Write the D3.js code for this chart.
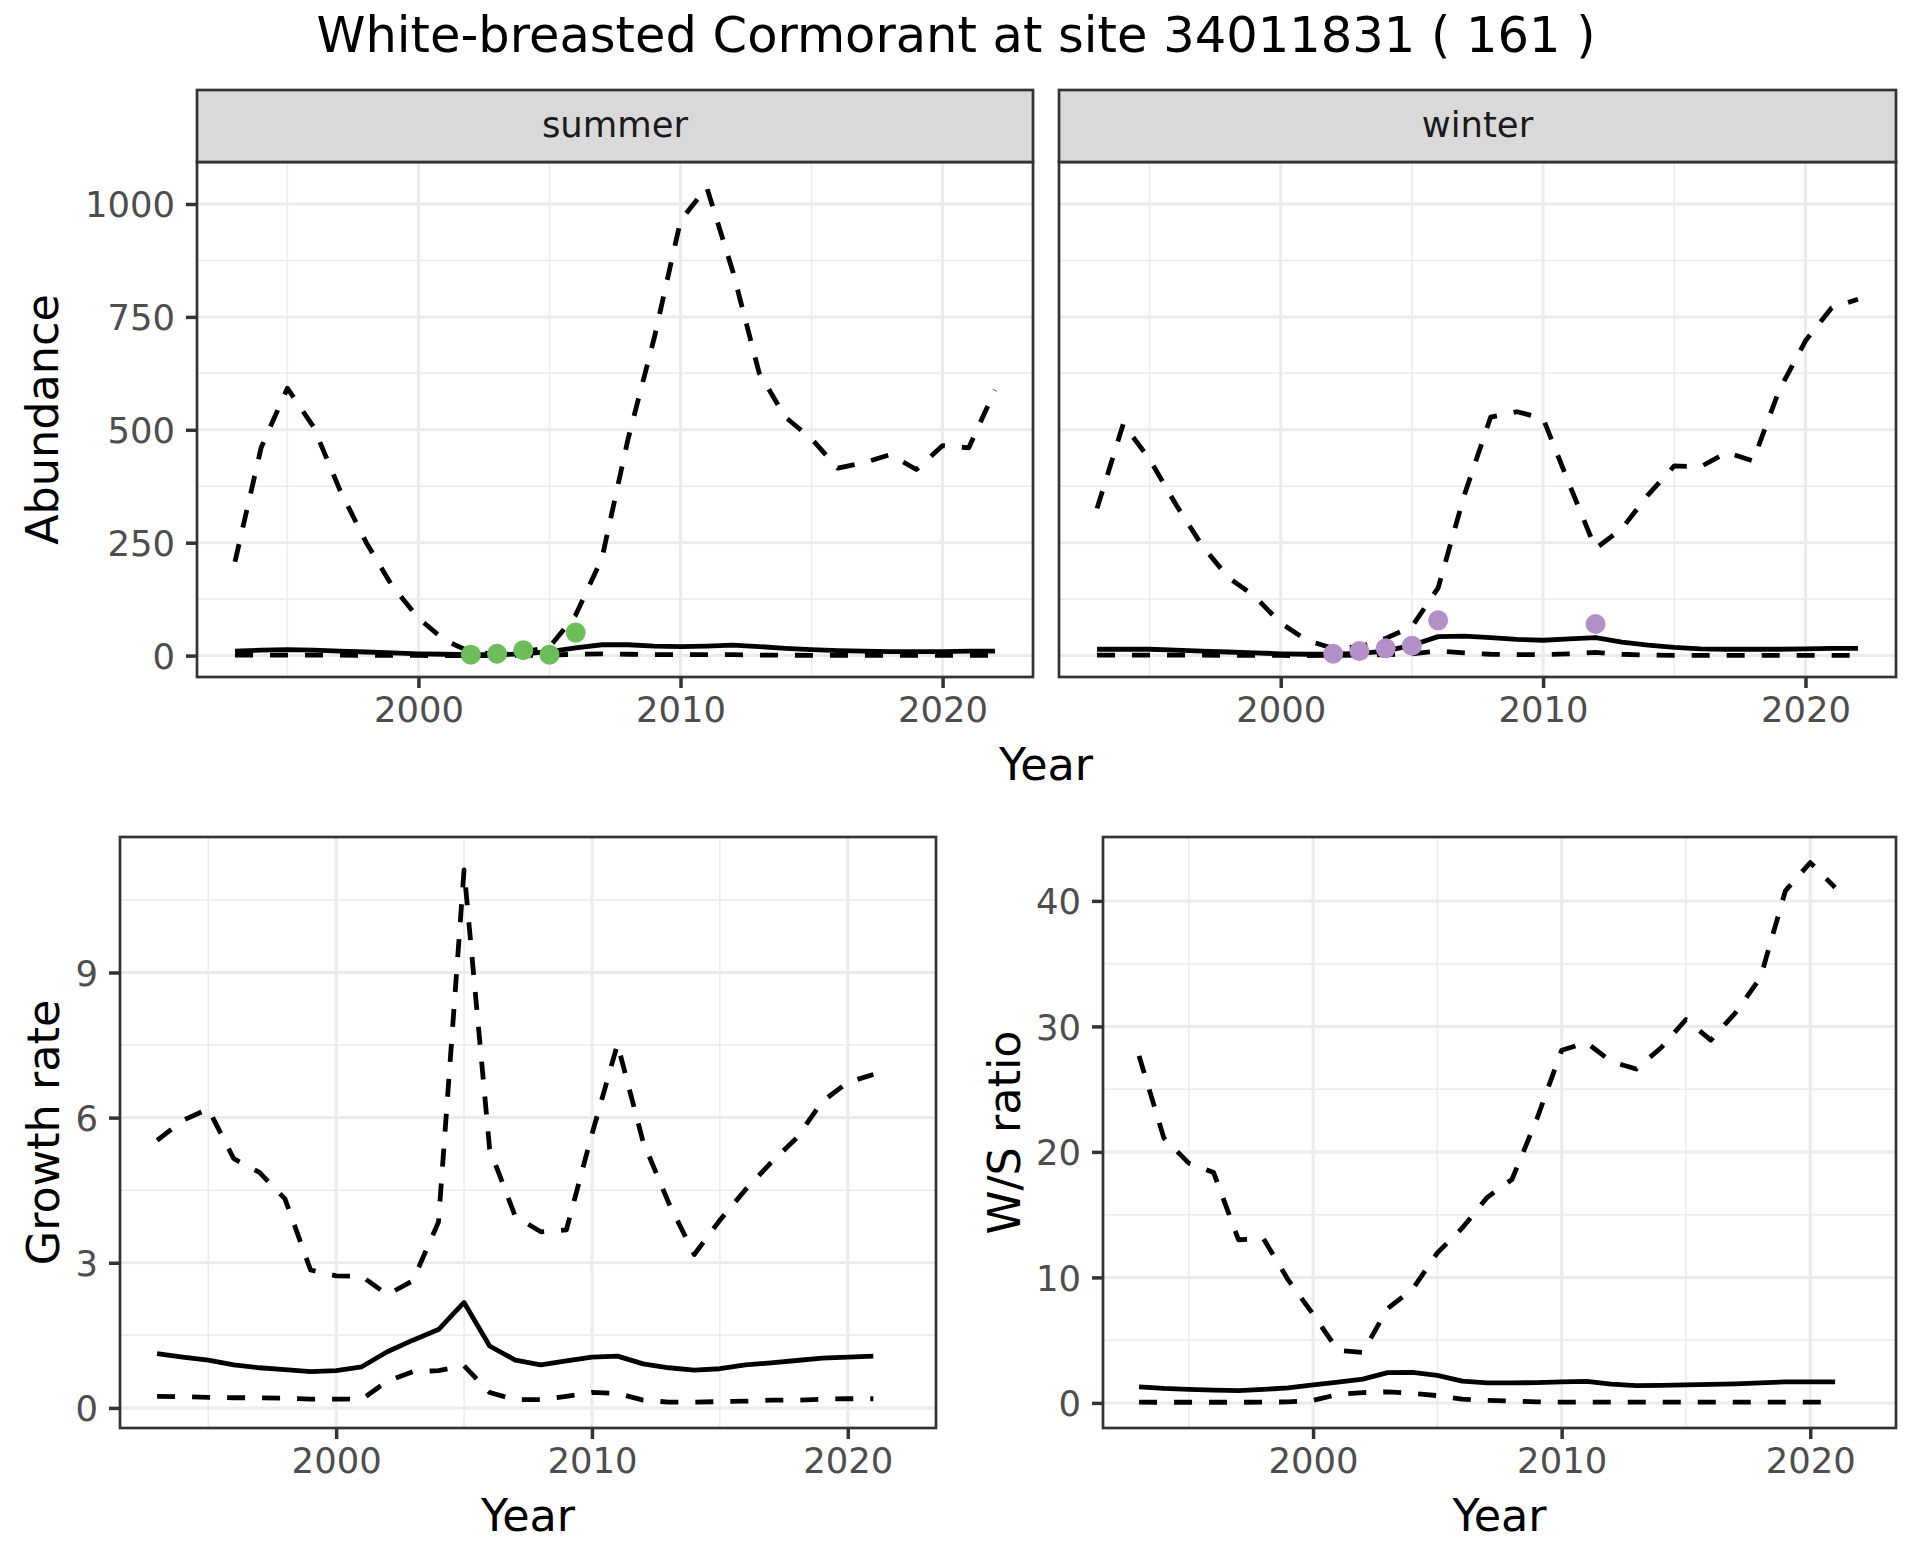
<!DOCTYPE html>
<html>
<head>
<meta charset="utf-8">
<script src="https://cdn.jsdelivr.net/npm/d3@7"></script>
<style>
body { margin: 0; background: #fff; }
text { font-family: "DejaVu Sans", sans-serif; }
</style>
</head>
<body>
<svg id="fig" width="1920" height="1560"></svg>
<script>
// ---- data ----
const yearsAbund = [1993,1994,1995,1996,1997,1998,1999,2000,2001,2002,2003,2004,2005,2006,2007,
                    2008,2009,2010,2011,2012,2013,2014,2015,2016,2017,2018,2019,2020,2021,2022];
const yearsRate  = yearsAbund.slice(0, 29); // 1993..2021

const summerMid  = [10,12,13,12,10,8,6,4,3,2,2,4,9,17,24,24,21,20,21,23,20,16,13,11,10,9,9,9,10,10];
const summerLow  = [1,1,1,1,1,0.5,0.5,0.3,0.2,0.2,0.3,0.5,1,3,4,3,2,2,2,2,1,1,0.5,0.5,0.5,0.5,0.5,0.5,0.5,0.5];
const summerHigh = [208,461,592,506,367,251,154,83,34,8,3,8,19,90,215,480,704,963,1037,850,626,528,480,415,427,445,412,465,460,588];

const winterMid  = [14,14,14,12,10,8,6,4,3,3,5,10,23,42,43,40,36,34,37,40,30,23,18,15,14,14,14,15,16,16];
const winterLow  = [1,1,1,1,1,0.5,0.5,0.3,0.2,0.5,1,2,4,10,6,3,2,2,4,7,3,1,0.5,0.5,0.5,0.5,0.5,0.5,0.5,0.5];
const winterHigh = [326,513,435,335,244,173,132,72,34,16,19,38,64,150,356,528,540,525,379,237,281,356,420,418,450,431,588,697,770,789];

const summerObsYears = [2002,2003,2004,2005,2006];
const summerObs      = [2,4,12,2,51];
const winterObsYears = [2002,2003,2004,2005,2006,2012];
const winterObs      = [4,10,16,22,78,70];

const growthMid  = [1.12,1.05,0.99,0.89,0.83,0.79,0.75,0.77,0.85,1.16,1.40,1.62,2.18,1.28,0.99,
                    0.89,0.97,1.05,1.07,0.91,0.83,0.78,0.81,0.89,0.93,0.98,1.03,1.05,1.07];
const growthLow  = [0.24,0.23,0.22,0.21,0.21,0.20,0.18,0.18,0.18,0.55,0.75,0.77,0.87,0.32,0.17,
                    0.17,0.24,0.32,0.30,0.16,0.12,0.12,0.13,0.14,0.16,0.16,0.18,0.19,0.19];
const growthHigh = [5.53,5.94,6.18,5.15,4.87,4.32,2.85,2.73,2.72,2.34,2.63,3.84,11.12,5.35,3.96,
                    3.64,3.68,5.66,7.52,5.50,4.24,3.17,3.88,4.51,5.07,5.58,6.33,6.73,6.89];

const wsMid  = [1.28,1.15,1.07,1.02,0.98,1.08,1.19,1.43,1.65,1.89,2.41,2.44,2.20,1.74,1.59,
                1.59,1.62,1.68,1.71,1.49,1.37,1.39,1.43,1.47,1.52,1.60,1.68,1.68,1.68];
const wsLow  = [0.06,0.05,0.05,0.05,0.05,0.06,0.08,0.20,0.67,0.82,0.88,0.76,0.58,0.30,0.21,
                0.15,0.08,0.06,0.06,0.06,0.06,0.06,0.06,0.06,0.06,0.06,0.06,0.06,0.06];
const wsHigh = [27.65,21.1,19.1,18.35,13.0,13.1,9.8,7.07,4.18,4.02,7.53,9.05,11.95,13.93,16.37,
                17.8,22.6,28.1,28.7,27.2,26.6,28.3,30.55,28.9,31.1,33.9,40.8,43.05,41.07];

const xMajor = [2000, 2010, 2020];
const xMinor = [1995, 2005, 2015];
const abundTicks = [0, 250, 500, 750, 1000];
const abundMinor = [125, 375, 625, 875];
const growthTicks = [0, 3, 6, 9];
const growthMinor = [1.5, 4.5, 7.5, 10.5];
const wsTicks = [0, 10, 20, 30, 40];
const wsMinor = [5, 15, 25, 35];

const titleText = "White-breasted Cormorant at site 34011831 ( 161 )";

// ---- drawing ----
const svg = d3.select("#fig");
svg.append("rect").attr("width", 1920).attr("height", 1560).attr("fill", "#fff");

const TICK_FONT = 35.4, AXIS_FONT = 44.5;

function panel(box, yDomain, yTicks, yMinor, showYAxis) {
  const x = d3.scaleLinear().domain([1991.55, 2023.45]).range([box.x0, box.x1]);
  const y = d3.scaleLinear().domain(yDomain).range([box.y1, box.y0]);
  const g = svg.append("g");

  // grid
  g.selectAll(".ymin").data(yMinor.filter(v => y(v) > box.y0 && y(v) < box.y1)).join("line")
    .attr("x1", box.x0).attr("x2", box.x1).attr("y1", d => y(d)).attr("y2", d => y(d))
    .attr("stroke", "#EBEBEB").attr("stroke-width", 1.5);
  g.selectAll(".xmin").data(xMinor).join("line")
    .attr("x1", d => x(d)).attr("x2", d => x(d)).attr("y1", box.y0).attr("y2", box.y1)
    .attr("stroke", "#EBEBEB").attr("stroke-width", 1.5);
  g.selectAll(".ymaj").data(yTicks).join("line")
    .attr("x1", box.x0).attr("x2", box.x1).attr("y1", d => y(d)).attr("y2", d => y(d))
    .attr("stroke", "#EBEBEB").attr("stroke-width", 3);
  g.selectAll(".xmaj").data(xMajor).join("line")
    .attr("x1", d => x(d)).attr("x2", d => x(d)).attr("y1", box.y0).attr("y2", box.y1)
    .attr("stroke", "#EBEBEB").attr("stroke-width", 3);

  // x axis
  const xa = svg.append("g").attr("transform", `translate(0,${box.y1})`)
    .call(d3.axisBottom(x).tickValues(xMajor).tickFormat(d3.format("d")).tickSize(11).tickPadding(9));
  xa.select(".domain").remove();
  xa.selectAll("line").attr("stroke", "#333333").attr("stroke-width", 3.5);
  xa.selectAll("text").attr("fill", "#4D4D4D").style("font-size", TICK_FONT + "px")
    .style("font-family", "DejaVu Sans").attr("dy", "0.72em");

  if (showYAxis) {
    const ya = svg.append("g").attr("transform", `translate(${box.x0},0)`)
      .call(d3.axisLeft(y).tickValues(yTicks).tickFormat(d3.format("d")).tickSize(11).tickPadding(11));
    ya.select(".domain").remove();
    ya.selectAll("line").attr("stroke", "#333333").attr("stroke-width", 3.5);
    ya.selectAll("text").attr("fill", "#4D4D4D").style("font-size", TICK_FONT + "px")
      .style("font-family", "DejaVu Sans").attr("dy", "0.36em");
  }
  return { x, y, g, box };
}

function series(p, xs, vals, dashed) {
  const line = d3.line().x((d, i) => p.x(xs[i])).y(d => p.y(d));
  p.g.append("path").attr("d", line(vals)).attr("fill", "none")
    .attr("stroke", "#000").attr("stroke-width", 4.8)
    .attr("stroke-dasharray", dashed ? "18,17" : null)
    .attr("stroke-linejoin", "round");
}

function border(p) {
  p.g.append("rect").attr("x", p.box.x0).attr("y", p.box.y0)
    .attr("width", p.box.x1 - p.box.x0).attr("height", p.box.y1 - p.box.y0)
    .attr("fill", "none").attr("stroke", "#333333").attr("stroke-width", 2.7);
}

function strip(box, label) {
  svg.append("rect").attr("x", box.x0).attr("y", 90).attr("width", box.x1 - box.x0).attr("height", 72)
    .attr("fill", "#D9D9D9").attr("stroke", "#333333").attr("stroke-width", 2.7);
  svg.append("text").attr("x", (box.x0 + box.x1) / 2).attr("y", 137)
    .attr("text-anchor", "middle").attr("fill", "#1A1A1A").style("font-size", TICK_FONT + "px")
    .text(label);
}

function points(p, xs, vals, color) {
  p.g.selectAll(".pt").data(vals).join("circle")
    .attr("cx", (d, i) => p.x(xs[i])).attr("cy", d => p.y(d)).attr("r", 10)
    .attr("fill", color);
}

// title
svg.append("text").attr("x", 956).attr("y", 52).attr("text-anchor", "middle")
  .attr("fill", "#000").style("font-size", "49.5px").text(titleText);

// top row (facets)
const abundDomain = [-47.4, 1093];
const boxS = { x0: 197, x1: 1033, y0: 162, y1: 677 };
const boxW = { x0: 1059, x1: 1896, y0: 162, y1: 677 };
const pS = panel(boxS, abundDomain, abundTicks, abundMinor, true);
series(pS, yearsAbund, summerHigh, true);
series(pS, yearsAbund, summerLow, true);
series(pS, yearsAbund, summerMid, false);
points(pS, summerObsYears, summerObs, "#6DBD5B");
border(pS);
strip(boxS, "summer");

const pW = panel(boxW, abundDomain, abundTicks, abundMinor, false);
series(pW, yearsAbund, winterHigh, true);
series(pW, yearsAbund, winterLow, true);
series(pW, yearsAbund, winterMid, false);
points(pW, winterObsYears, winterObs, "#B391C8");
border(pW);
strip(boxW, "winter");

svg.append("text").attr("x", 1046).attr("y", 780).attr("text-anchor", "middle")
  .style("font-size", AXIS_FONT + "px").text("Year");
svg.append("text").attr("transform", "translate(58,419.5) rotate(-90)").attr("text-anchor", "middle")
  .style("font-size", AXIS_FONT + "px").text("Abundance");

// bottom-left: growth rate
const boxG = { x0: 120, x1: 936, y0: 837, y1: 1428 };
const pG = panel(boxG, [-0.415, 11.8], growthTicks, growthMinor, true);
series(pG, yearsRate, growthHigh, true);
series(pG, yearsRate, growthLow, true);
series(pG, yearsRate, growthMid, false);
border(pG);
svg.append("text").attr("x", (boxG.x0 + boxG.x1) / 2).attr("y", 1531).attr("text-anchor", "middle")
  .style("font-size", AXIS_FONT + "px").text("Year");
svg.append("text").attr("transform", "translate(59,1132.5) rotate(-90)").attr("text-anchor", "middle")
  .style("font-size", AXIS_FONT + "px").text("Growth rate");

// bottom-right: W/S ratio
const boxR = { x0: 1103, x1: 1896, y0: 837, y1: 1428 };
const pR = panel(boxR, [-2.0, 45.09], wsTicks, wsMinor, true);
series(pR, yearsRate, wsHigh, true);
series(pR, yearsRate, wsLow, true);
series(pR, yearsRate, wsMid, false);
border(pR);
svg.append("text").attr("x", (boxR.x0 + boxR.x1) / 2).attr("y", 1531).attr("text-anchor", "middle")
  .style("font-size", AXIS_FONT + "px").text("Year");
svg.append("text").attr("transform", "translate(1020,1132.5) rotate(-90)").attr("text-anchor", "middle")
  .style("font-size", AXIS_FONT + "px").text("W/S ratio");
</script>
</body>
</html>
